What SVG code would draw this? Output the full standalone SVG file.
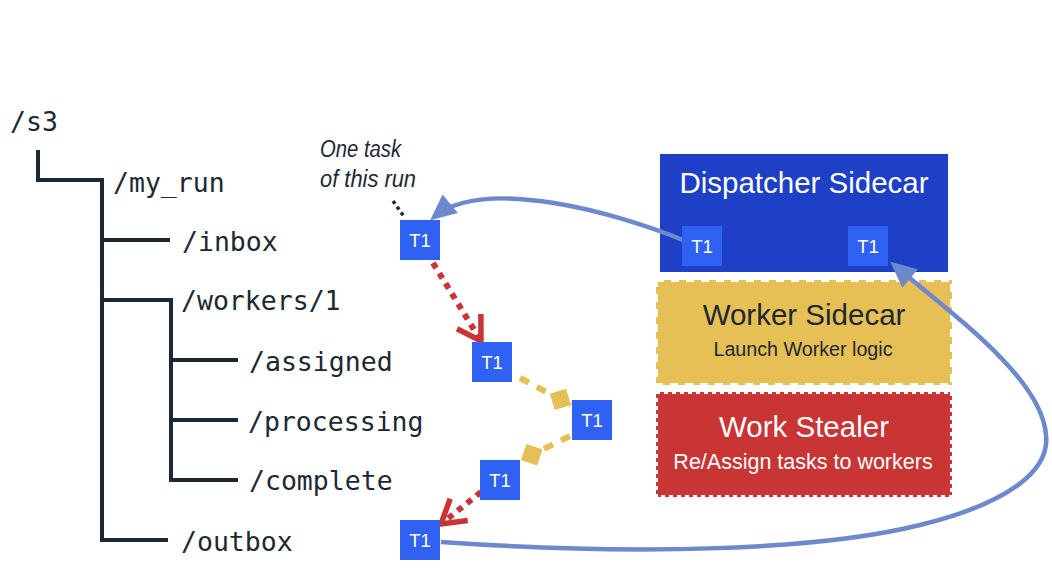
<svg xmlns="http://www.w3.org/2000/svg" width="1052" height="578" viewBox="0 0 1052 578">
<style>
.mono{font-family:"DejaVu Sans Mono","Liberation Mono",monospace;font-size:26.5px;fill:#1c2833}
.sans{font-family:"Liberation Sans",Arial,sans-serif}
.t1{fill:#2f62f2}
.t1txt{font-family:"Liberation Sans",Arial,sans-serif;font-size:18.5px;fill:#ffffff;text-anchor:middle}
.tree{fill:none;stroke:#1c2833;stroke-width:4}
.blue{fill:none;stroke:#6d88cc;stroke-width:4.5}
.red{fill:none;stroke:#c93434;stroke-width:6;stroke-dasharray:6 6}
.yel{fill:none;stroke:#e6bf55;stroke-width:6;stroke-dasharray:10 9}
</style>
<defs>
<marker id="chev" markerUnits="userSpaceOnUse" markerWidth="60" markerHeight="60" viewBox="-30 -30 60 60" refX="0" refY="0" orient="auto" overflow="visible">
<path d="M-23,-14 L0,0 L-23,14" fill="none" stroke="#c93434" stroke-width="5.5"/>
</marker>
<marker id="dia" markerUnits="userSpaceOnUse" markerWidth="60" markerHeight="60" viewBox="-30 -30 60 60" refX="0" refY="0" orient="auto" overflow="visible">
<path d="M-24,0 L-12,-12 L0,0 L-12,12 Z" fill="#e6bf55"/>
</marker>
<marker id="tri" markerUnits="userSpaceOnUse" markerWidth="60" markerHeight="60" viewBox="-30 -30 60 60" refX="0" refY="0" orient="auto" overflow="visible">
<path d="M5,0 L-21,-12 L-21,12 Z" fill="#6d88cc"/>
</marker>
</defs>
<rect width="1052" height="578" fill="#ffffff"/>

<g id="tree">
<path class="tree" d="M38,150 V180 H102 V540 H168 M102,240 H170 M102,300 H171 V480 H238 M171,360 H238 M171,420 H238"/>
</g>

<g id="labels">
<text class="mono" x="10" y="131">/s3</text>
<text class="mono" x="113" y="192">/my_run</text>
<text class="mono" x="182" y="251">/inbox</text>
<text class="mono" x="181" y="310">/workers/1</text>
<text class="mono" x="249" y="371">/assigned</text>
<text class="mono" x="248" y="431">/processing</text>
<text class="mono" x="249" y="490">/complete</text>
<text class="mono" x="181" y="551">/outbox</text>
</g>

<g id="note">
<text class="sans" x="320" y="157" font-size="23" font-style="italic" fill="#1c2833" textLength="81" lengthAdjust="spacingAndGlyphs">One task</text>
<text class="sans" x="320" y="187" font-size="23" font-style="italic" fill="#1c2833" textLength="96" lengthAdjust="spacingAndGlyphs">of this run</text>
</g>

<g id="dispatcher">
<rect x="660" y="154" width="288" height="118" fill="#1d40c6"/>
<text class="sans" x="804" y="193" font-size="29.5" fill="#ffffff" text-anchor="middle">Dispatcher Sidecar</text>
</g>
<g id="worker">
<rect x="656" y="280" width="296" height="105" fill="#e6bf55" stroke="#ffffff" stroke-width="4" stroke-dasharray="8 7"/>
<text class="sans" x="804" y="325" font-size="29.5" fill="#1c2833" text-anchor="middle">Worker Sidecar</text>
<text class="sans" x="803" y="356" font-size="19.7" fill="#1c2833" text-anchor="middle">Launch Worker logic</text>
</g>
<g id="stealer">
<rect x="656" y="392" width="296" height="105" fill="#c93434" stroke="#ffffff" stroke-width="4" stroke-dasharray="4 4"/>
<text class="sans" x="804" y="437" font-size="29.5" fill="#ffffff" text-anchor="middle">Work Stealer</text>
<text class="sans" x="803" y="469" font-size="21.5" fill="#ffffff" text-anchor="middle">Re/Assign tasks to workers</text>
</g>

<g id="connectors">
<path d="M393,201 L405,218" fill="none" stroke="#1c2833" stroke-width="3.5" stroke-dasharray="3.5 3.5"/>
<path class="red" d="M433,263 L481,341" marker-end="url(#chev)"/>
<path class="yel" d="M520,378 L571,405" marker-end="url(#dia)"/>
<path class="yel" d="M570,436 L521,460" marker-end="url(#dia)"/>
<path class="red" d="M481,492 L441,524" marker-end="url(#chev)"/>
<path class="blue" d="M683,240 C620,214 485,175 434,217" marker-end="url(#tri)"/>
<path class="blue" d="M441,542 C640,556 820,550 920,525 C1010,503 1050,470 1046,435 C1042,380 960,320 894,265" marker-end="url(#tri)"/>
</g>

<g id="task-inbox"><rect class="t1" x="400" y="220" width="40" height="40"/><text class="t1txt" x="420" y="247">T1</text></g>
<g id="task-assigned"><rect class="t1" x="472" y="342" width="40" height="40"/><text class="t1txt" x="492" y="369">T1</text></g>
<g id="task-processing"><rect class="t1" x="572" y="400" width="40" height="40"/><text class="t1txt" x="592" y="427">T1</text></g>
<g id="task-complete"><rect class="t1" x="480" y="460" width="40" height="40"/><text class="t1txt" x="500" y="487">T1</text></g>
<g id="task-outbox"><rect class="t1" x="400" y="520" width="40" height="40"/><text class="t1txt" x="420" y="547">T1</text></g>
<g id="task-dispatch-out"><rect class="t1" x="682" y="226" width="40" height="40"/><text class="t1txt" x="702" y="253">T1</text></g>
<g id="task-dispatch-in"><rect class="t1" x="848" y="226" width="40" height="40"/><text class="t1txt" x="868" y="253">T1</text></g>
</svg>
